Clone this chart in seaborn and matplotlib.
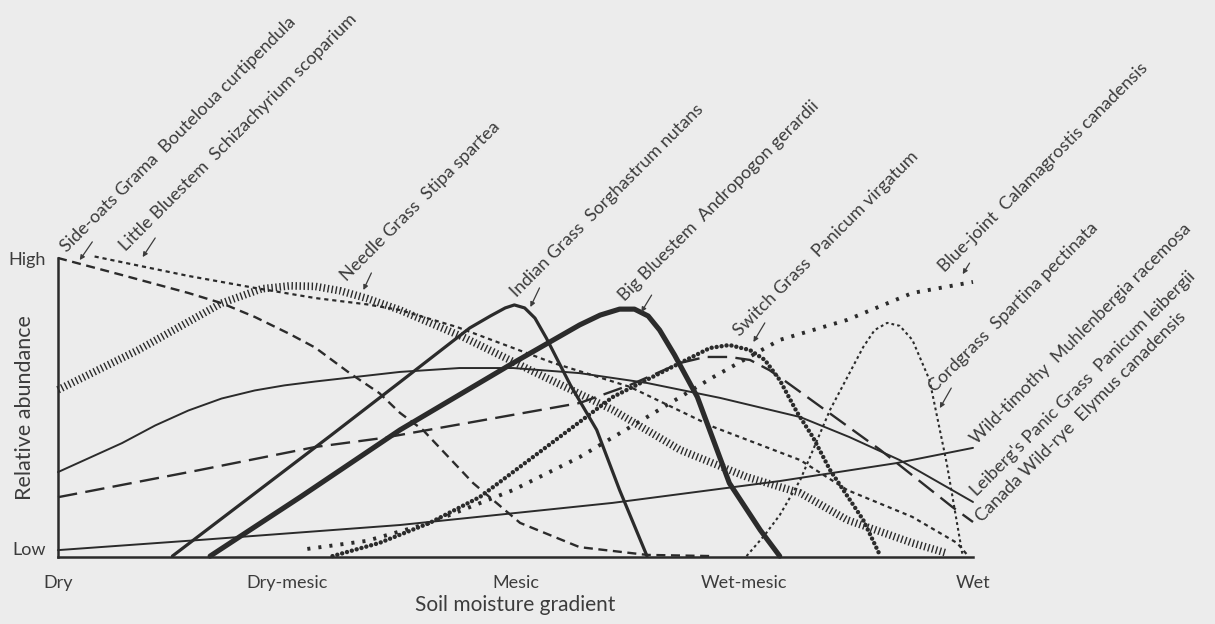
import matplotlib
matplotlib.use("Agg")
import matplotlib.pyplot as plt
import seaborn as sns
import pandas as pd

# ---------------- data (x: 0=Dry ... 8=Wet, y: 0=Low ... 1=High) ----------------
sideoats_x = [0, 0.56, 1.14, 1.43, 1.72, 2.03, 2.25, 2.55, 2.81, 2.99, 3.19, 3.63, 4.04, 4.56, 5.15, 5.73]
sideoats_y = [1.0, 0.943, 0.883, 0.849, 0.803, 0.745, 0.700, 0.615, 0.548, 0.482, 0.425, 0.247, 0.114, 0.033, 0.007, 0.003]

littleblue_x = [0.32, 1.14, 1.72, 2.25, 2.70, 2.99, 3.49, 4.33, 5.00, 5.73, 6.49, 6.90, 7.47, 7.86, 7.95]
littleblue_y = [1.005, 0.940, 0.900, 0.866, 0.845, 0.826, 0.769, 0.649, 0.569, 0.435, 0.324, 0.224, 0.134, 0.047, 0.007]

needle_x = [0, 0.70, 1.43, 1.78, 2.03, 2.25, 2.47, 2.70, 2.99, 3.54, 4.13, 4.85, 5.44, 6.02, 6.49, 6.90, 7.47, 7.77]
needle_y = [0.559, 0.692, 0.849, 0.897, 0.907, 0.905, 0.890, 0.865, 0.826, 0.736, 0.625, 0.492, 0.358, 0.268, 0.214, 0.124, 0.047, 0.013]

indian_x = [1.00, 1.68, 2.38, 2.99, 3.60, 3.78, 3.91, 3.99, 4.08, 4.17, 4.27, 4.48, 4.71, 4.91, 5.15]
indian_y = [0.003, 0.201, 0.405, 0.585, 0.766, 0.806, 0.833, 0.843, 0.833, 0.799, 0.732, 0.575, 0.425, 0.224, 0.003]

bigblue_x = [1.33, 2.12, 2.99, 3.98, 4.56, 4.74, 4.91, 5.04, 5.16, 5.26, 5.39, 5.59, 5.87, 6.14, 6.31]
bigblue_y = [0.003, 0.201, 0.425, 0.649, 0.776, 0.809, 0.829, 0.829, 0.806, 0.759, 0.676, 0.535, 0.247, 0.090, 0.003]

switch_x = [2.40, 2.81, 3.25, 3.69, 4.27, 4.85, 5.44, 5.70, 5.87, 6.05, 6.18, 6.31, 6.46, 6.60, 6.75, 7.04, 7.19]
switch_y = [0.003, 0.047, 0.114, 0.201, 0.368, 0.535, 0.649, 0.699, 0.709, 0.692, 0.659, 0.592, 0.485, 0.401, 0.291, 0.124, 0.003]

bluejoint_x = [2.18, 2.70, 3.25, 3.98, 4.56, 5.15, 5.73, 6.31, 6.90, 7.47, 8.0]
bluejoint_y = [0.027, 0.054, 0.114, 0.224, 0.334, 0.468, 0.602, 0.726, 0.793, 0.883, 0.920]

cord_x = [6.02, 6.18, 6.31, 6.49, 6.75, 7.04, 7.14, 7.25, 7.36, 7.47, 7.62, 7.71, 7.77, 7.91]
cord_y = [0.003, 0.074, 0.140, 0.258, 0.492, 0.702, 0.759, 0.783, 0.773, 0.726, 0.592, 0.425, 0.314, 0.003]

wildtim_x = [0, 1.24, 2.99, 4.85, 6.31, 7.33, 8.0]
wildtim_y = [0.023, 0.057, 0.107, 0.181, 0.254, 0.314, 0.365]

leiberg_x = [0, 0.56, 0.85, 1.14, 1.43, 1.72, 1.98, 2.25, 2.99, 3.51, 3.98, 4.56, 5.15, 5.79, 6.49, 6.92, 7.36, 8.0]
leiberg_y = [0.284, 0.381, 0.440, 0.490, 0.530, 0.557, 0.574, 0.587, 0.619, 0.632, 0.632, 0.615, 0.582, 0.532, 0.468, 0.401, 0.324, 0.184]

canada_x = [0, 1.24, 2.25, 2.84, 4.56, 5.00, 5.44, 5.66, 5.87, 6.05, 6.22, 6.37, 7.19, 7.82, 8.0]
canada_y = [0.200, 0.291, 0.368, 0.398, 0.515, 0.575, 0.649, 0.669, 0.669, 0.659, 0.625, 0.585, 0.358, 0.167, 0.117]

tick_positions = [0, 1, 2, 3, 4, 5, 6, 7, 8]
tick_labels = ["Dry", "", "Dry-mesic", "", "Mesic", "", "Wet-mesic", "", "Wet"]
ytick_positions = [0.03, 1.0]
ytick_labels = ["Low", "High"]

label_texts = [
    "Side-oats Grama  Bouteloua curtipendula",
    "Little Bluestem  Schizachyrium scoparium",
    "Needle Grass  Stipa spartea",
    "Indian Grass  Sorghastrum nutans",
    "Big Bluestem  Andropogon gerardii",
    "Switch Grass  Panicum virgatum",
    "Blue-joint  Calamagrostis canadensis",
    "Cordgrass  Spartina pectinata",
    "Wild-timothy  Muhlenbergia racemosa",
    "Leiberg's Panic Grass  Panicum leibergii",
    "Canada Wild-rye  Elymus canadensis",
]
label_x = [0.08, 0.59, 2.53, 4.01, 4.96, 5.96, 7.75, 7.67, 8.03, 8.03, 8.08]
label_y = [1.017, 1.020, 0.920, 0.866, 0.853, 0.736, 0.950, 0.548, 0.375, 0.201, 0.114]
# small arrows (start -> tip) for the labels that have them
arrow_from_x = [0.30, 0.85, 2.74, 4.21, 5.19, 6.18, 7.97, 7.81]
arrow_from_y = [1.054, 1.067, 0.950, 0.900, 0.876, 0.783, 0.983, 0.565]
arrow_to_x = [0.19, 0.74, 2.67, 4.13, 5.10, 6.08, 7.91, 7.71]
arrow_to_y = [0.993, 1.003, 0.893, 0.836, 0.819, 0.719, 0.946, 0.498]

# ---------------- style ----------------
INK = "#2b2b2b"
TXT = "#3c3c3c"
BG = "#ececec"
sns.set_style("white")
plt.rcParams["font.family"] = ["Lato", "DejaVu Sans"]
plt.rcParams["lines.scale_dashes"] = False

fig = plt.figure(figsize=(12.15, 6.24), dpi=100, facecolor=BG)
ax = fig.add_axes([58 / 1215, 67 / 624, 915 / 1215, 299 / 624])
ax.set_facecolor(BG)

series = [
    # x, y, linewidth, dashes (None=solid), capstyle
    (sideoats_x, sideoats_y, 1.7, (6.5, 4.0), "butt"),
    (littleblue_x, littleblue_y, 1.6, (3.0, 2.8), "butt"),
    (needle_x, needle_y, 5.5, (1.0, 1.9), "butt"),
    (indian_x, indian_y, 2.3, None, "round"),
    (bigblue_x, bigblue_y, 3.7, None, "round"),
    (switch_x, switch_y, 3.2, (0.01, 3.6), "round"),
    (bluejoint_x, bluejoint_y, 2.8, (2.2, 5.8), "butt"),
    (cord_x, cord_y, 1.5, (2.0, 2.2), "butt"),
    (wildtim_x, wildtim_y, 1.4, None, "round"),
    (leiberg_x, leiberg_y, 1.4, None, "round"),
    (canada_x, canada_y, 1.7, (14.0, 6.0), "butt"),
]

for xs, ys, lw, dash, cap in series:
    df = pd.DataFrame({"x": xs, "y": ys})
    sns.lineplot(data=df, x="x", y="y", ax=ax, color=INK, linewidth=lw,
                 sort=False, estimator=None, clip_on=False)
    line = ax.lines[-1]
    line.set_solid_joinstyle("round")
    line.set_dash_joinstyle("round")
    if dash is not None:
        line.set_dashes(dash)
        line.set_dash_capstyle(cap)
    else:
        line.set_solid_capstyle(cap)

# labels
for txt, lx, ly in zip(label_texts, label_x, label_y):
    ax.text(lx, ly, txt, rotation=45, rotation_mode="anchor", ha="left",
            va="baseline", fontsize=13, color=TXT, clip_on=False)

for fx, fy, tx, ty in zip(arrow_from_x, arrow_from_y, arrow_to_x, arrow_to_y):
    ax.annotate("", xy=(tx, ty), xytext=(fx, fy), annotation_clip=False,
                arrowprops=dict(arrowstyle="-|>", lw=0.9, color=TXT,
                                mutation_scale=7, shrinkA=0, shrinkB=0))

# axes
ax.set_xlim(0, 8)
ax.set_ylim(0, 1)
for s in ["top", "right"]:
    ax.spines[s].set_visible(False)
for s in ["left", "bottom"]:
    ax.spines[s].set_linewidth(1.8)
    ax.spines[s].set_color(INK)

ax.set_xticks(tick_positions)
ax.set_xticklabels(tick_labels, fontsize=13, color=TXT)
ax.tick_params(axis="x", direction="out", length=7, width=1.3, color=INK, pad=6)
ax.set_yticks(ytick_positions)
ax.set_yticklabels(ytick_labels, fontsize=13, color=TXT)
ax.tick_params(axis="y", direction="out", length=0, pad=9)

ax.set_xlabel("Soil moisture gradient", fontsize=15, color=TXT, labelpad=3)
ax.set_ylabel("Relative abundance", fontsize=15.5, color=TXT)
ax.yaxis.set_label_coords(-0.025, 0.5)

fig.savefig("out.png", dpi=100, facecolor=BG)
